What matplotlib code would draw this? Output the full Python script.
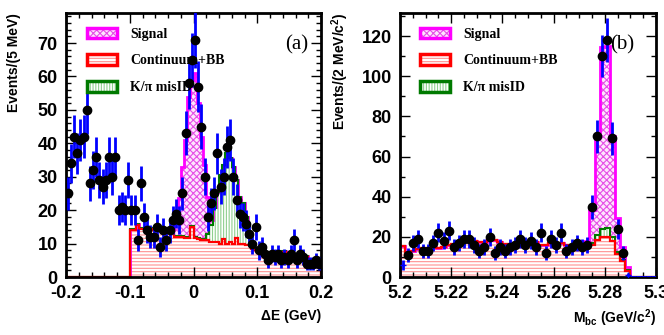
import numpy as np
import matplotlib
matplotlib.use('Agg')
import matplotlib.pyplot as plt
from matplotlib.patches import Patch
from matplotlib.ticker import MultipleLocator

# ---- Delta E projection (5 MeV bins, -0.2 .. 0.2 GeV) ----
de_edges = np.linspace(-0.2, 0.2, 81)
de_data = [25, 34, 42, 37, 41, 42, 50, 28, 32, 36,
           29, 27, 29, 36, 30, 36, 20, 21, 20, 29,
           20, 20, 11, 28, 18, 14, 12, 12, 15, 9,
           14, 11, 14, 17, 19, 17, 25, 43, 58, 65,
           71, 57, 45, 30, 18, 22, 25, 37, 27, 30,
           39, 41, 30, 23, 19, 18, 16, 13, 10, 15,
           8, 9, 7, 5, 7, 6, 7, 5, 6, 5,
           7, 11, 5, 7, 6, 4, 4, 4, 5, 4]
de_bkg = [0, 0, 0, 0, 0, 0, 0, 0, 0, 0,
          0, 0, 0, 0, 0, 0, 0, 0, 0, 0,
          14, 14, 15.5, 14.5, 14.5, 14.5, 14.5, 14, 14, 14,
          14, 13.5, 13.5, 13.5, 12, 12, 12, 11.8, 11.8, 15,
          11.8, 11.5, 11, 11, 11, 10.5, 10.5, 10.5, 10, 11.5,
          10, 10.5, 10, 11.8, 10, 10, 9.5, 9.5, 8.5, 8,
          7.5, 7, 6.5, 6.5, 6.5, 6.5, 6.5, 7.5, 7.5, 6,
          6, 6, 6, 6, 6, 6, 5, 5, 5, 5]
de_misid = [0, 0, 0, 0, 0, 0, 0, 0, 0, 0,
            0, 0, 0, 0, 0, 0, 0, 0, 0, 0,
            0.3, 0.3, 0.3, 0.3, 0.3, 0.3, 0.3, 0.3, 0.3, 0.3,
            0.3, 0.3, 0.3, 0.3, 0.3, 0.3, 0.3, 0.3, 0.3, 0.3,
            0.3, 0.3, 0.3, 0.3, 2, 5.1, 10.2, 15, 20.5, 22,
            27, 25, 23, 17.2, 14, 12, 8.5, 3.5, 1.5, 0.5,
            0.3, 0.3, 0.3, 0.3, 0.3, 0.3, 0.3, 0.3, 0.3, 0.3,
            0.3, 0.3, 0.3, 0.3, 0.3, 0.3, 0.3, 0.3, 0.3, 0.3]
de_signal = [0, 0, 0, 0, 0, 0, 0, 0, 0, 0,
             0, 0, 0, 0, 0, 0, 0, 0, 0, 0,
             0, 0, 0, 0, 0, 0, 0, 0, 0, 0,
             0, 0, 0, 0.7, 4.7, 11.3, 20.7, 28.9, 41.9, 43.7,
             48.9, 40.2, 30.7, 22.2, 11, 1.5, 0.3, 0, 0, 0,
             0, 0, 0, 0, 0, 0, 0, 0, 0, 0,
             0, 0, 0, 0, 0, 0, 0, 0, 0, 0,
             0, 0, 0, 0, 0, 0, 0, 0, 0, 0]
de_xticks = [-0.2, -0.1, 0, 0.1, 0.2]
de_xticklabels = ['-0.2', '-0.1', '0', '0.1', '0.2']
de_yticks = [0, 10, 20, 30, 40, 50, 60, 70]

# ---- Mbc projection (2 MeV/c2 bins, 5.2 .. 5.3 GeV/c2) ----
mbc_edges = np.linspace(5.2, 5.3, 51)
mbc_data = [6, 11, 17, 19, 13, 13, 17, 22, 18, 23,
            15, 17, 19, 19, 16, 13, 15, 20, 12, 15,
            13, 15, 16, 19, 16, 18, 15, 22, 12, 19,
            16, 22, 13, 15, 17, 15, 16, 35, 70, 110,
            118, 69, 24, 12, 1, 0, 0, 0, 0, 0]
mbc_bkg = [15.5, 12, 13, 14, 14.5, 14.5, 15, 14.5, 15, 16,
           16.5, 17.5, 18, 18.5, 18, 17.5, 17.5, 18.5, 18.5, 17.5,
           16.5, 16, 17, 17, 17.5, 18, 17.5, 16, 16, 17,
           17, 17, 16, 16, 16, 15.5, 15, 16, 18.5, 20,
           20, 18, 11.5, 8, 3, 0, 0, 0, 0, 0]
mbc_misid = [0, 0, 0, 0, 0, 0, 0, 0, 0, 0,
             0, 0, 0, 0, 0, 0, 0, 0, 0, 0,
             0, 0, 0, 0, 0, 0, 0, 0, 0, 0,
             0, 0, 0, 0, 0, 0, 0.5, 1, 2.5, 4,
             4.5, 2, 1, 0.5, 0.5, 0, 0, 0, 0, 0]
mbc_signal = [0, 0, 0, 0, 0, 0, 0, 0, 0, 0,
              0, 0, 0, 0, 0, 0, 0, 0, 0, 0,
              0, 0, 0, 0, 0, 0, 0, 0, 0, 0,
              0, 0, 0, 0, 0.5, 1, 2.2, 16.5, 49, 90.5,
              90.5, 50, 17, 6.5, 1.5, 0, 0, 0, 0, 0]
mbc_faint = [0, 44]   # bins drawn with a small blue marker only
mbc_xticks = [5.2, 5.22, 5.24, 5.26, 5.28, 5.3]
mbc_xticklabels = ['5.2', '5.22', '5.24', '5.26', '5.28', '5.3']
mbc_yticks = [0, 20, 40, 60, 80, 100, 120]

legend_labels = ['Signal', 'Continuum+BB', 'K/\u03c0 misID']

plt.rcParams['font.family'] = ['Liberation Sans', 'DejaVu Sans']
plt.rcParams['mathtext.fontset'] = 'custom'
plt.rcParams['mathtext.rm'] = 'Liberation Sans:bold'
plt.rcParams['mathtext.bf'] = 'Liberation Sans:bold'
plt.rcParams['mathtext.it'] = 'Liberation Sans:bold'
plt.rcParams['mathtext.sf'] = 'Liberation Sans:bold'
plt.rcParams['mathtext.default'] = 'bf'
plt.rcParams['hatch.linewidth'] = 0.8

SIG_EDGE, SIG_HATCH = '#ff00ff', '#e64fe6'
MIS_EDGE, MIS_HATCH = '#007a00', '#8fcf8f'
BKG_EDGE, BKG_HATCH = '#ff0000', '#ff9090'


def draw_stack(ax, edges, bkg, misid, signal):
    bkg = np.asarray(bkg, float)
    g_top = bkg + np.asarray(misid, float)
    s_top = g_top + np.asarray(signal, float)
    ax.stairs(s_top, edges, baseline=g_top, fill=True, facecolor='#fde6fd',
              edgecolor=SIG_HATCH, hatch='xxxxx', linewidth=0, zorder=1)
    ax.stairs(g_top, edges, baseline=bkg, fill=True, facecolor='white',
              edgecolor=MIS_HATCH, hatch='||||||', linewidth=0, zorder=1)
    ax.stairs(bkg, edges, baseline=0, fill=True, facecolor='white',
              edgecolor=BKG_HATCH, hatch='-----', linewidth=0, zorder=1)
    ax.stairs(s_top, edges, baseline=0, color=SIG_EDGE, linewidth=2, zorder=2)
    ax.stairs(g_top, edges, baseline=0, color=MIS_EDGE, linewidth=1.5, zorder=2)
    ax.stairs(bkg, edges, baseline=0, color=BKG_EDGE, linewidth=1.6, zorder=2)


def draw_data(ax, edges, counts, faint=()):
    x = 0.5 * (edges[:-1] + edges[1:])
    y = np.asarray(counts, float)
    w = edges[1] - edges[0]
    zero = y == 0
    small = np.zeros_like(zero)
    small[list(faint)] = True
    main = ~zero & ~small
    ax.errorbar(x[main], y[main], yerr=np.sqrt(y[main]), fmt='o', color='black',
                ecolor='#0000ff', elinewidth=2, markersize=6, capsize=0, zorder=5)
    if small.any():
        ax.errorbar(x[small], y[small], yerr=np.sqrt(y[small]), fmt='+', color='#0000ff',
                    ecolor='#0000ff', elinewidth=2, markersize=4, capsize=0, zorder=5)
    if zero.any():
        ax.hlines(np.zeros(zero.sum()), x[zero] - w / 2, x[zero] + w / 2,
                  color='#0000ff', linewidth=2, zorder=5)


def legend(ax, anchor):
    handles = [
        (Patch(facecolor='#fde6fd', edgecolor=SIG_HATCH, hatch='xxxxx', lw=0),
         Patch(facecolor='none', edgecolor=SIG_EDGE, lw=2.5)),
        (Patch(facecolor='white', edgecolor=BKG_HATCH, hatch='-----', lw=0),
         Patch(facecolor='none', edgecolor=BKG_EDGE, lw=2.5)),
        (Patch(facecolor='white', edgecolor=MIS_HATCH, hatch='||||||', lw=0),
         Patch(facecolor='none', edgecolor=MIS_EDGE, lw=2.5)),
    ]
    ax.legend(handles, legend_labels, loc='upper left', bbox_to_anchor=anchor,
              frameon=False, borderpad=0, borderaxespad=0,
              handlelength=2.15, handleheight=0.8, labelspacing=0.98,
              handletextpad=0.95,
              prop={'family': 'Liberation Serif', 'weight': 'bold', 'size': 10})


def style(ax, xticks, xlabels, yticks):
    for s in ax.spines.values():
        s.set_linewidth(2)
    ax.set_xticks(xticks, xlabels, fontweight='bold', fontsize=13)
    ax.set_yticks(yticks, [str(v) for v in yticks], fontweight='bold', fontsize=13)
    ax.tick_params(which='both', direction='in', top=True, right=True, width=1)
    ax.tick_params(which='major', length=7, pad=6)
    ax.tick_params(which='minor', length=3.5)


fig = plt.figure(figsize=(6.64, 3.35), dpi=100)
ax1 = fig.add_axes([66 / 664, 58 / 335, 255 / 664, 264 / 335])
ax2 = fig.add_axes([400 / 664, 58 / 335, 256 / 664, 264 / 335])

# (a) Delta E
draw_stack(ax1, de_edges, de_bkg, de_misid, de_signal)
draw_data(ax1, de_edges, de_data)
style(ax1, de_xticks, de_xticklabels, de_yticks)
ax1.set_xlim(-0.2, 0.2)
ax1.set_ylim(0, 79)
ax1.xaxis.set_minor_locator(MultipleLocator(0.02))
ax1.yaxis.set_minor_locator(MultipleLocator(2))
ax1.set_ylabel('Events/(5 MeV)', fontsize=10, fontweight='bold', loc='top')
ax1.yaxis.set_label_coords(-0.175, 1.0)
ax1.set_xlabel('\u0394E (GeV)', fontsize=10, fontweight='bold', loc='right')
ax1.xaxis.set_label_coords(1.0, -0.12)
ax1.text(0.95, 0.88, '(a)', transform=ax1.transAxes, ha='right', va='center',
         family='Liberation Serif', fontsize=15)
legend(ax1, (0.082, 0.945))

# (b) Mbc
draw_stack(ax2, mbc_edges, mbc_bkg, mbc_misid, mbc_signal)
draw_data(ax2, mbc_edges, mbc_data, mbc_faint)
style(ax2, mbc_xticks, mbc_xticklabels, mbc_yticks)
ax2.set_xlim(5.2, 5.3)
ax2.set_ylim(0, 131.5)
ax2.xaxis.set_minor_locator(MultipleLocator(0.005))
ax2.yaxis.set_minor_locator(MultipleLocator(10))
ax2.set_ylabel(r'Events/(2 MeV/c$^2$)', fontsize=10, fontweight='bold', loc='top')
ax2.yaxis.set_label_coords(-0.19, 1.0)
ax2.set_xlabel(r'M$_{bc}$ (GeV/c$^2$)', fontsize=10, fontweight='bold', loc='right')
ax2.xaxis.set_label_coords(1.0, -0.115)
ax2.text(0.868, 0.88, '(b)', transform=ax2.transAxes, ha='center', va='center',
         family='Liberation Serif', fontsize=15)
legend(ax2, (0.078, 0.945))

fig.savefig('out.png', dpi=100, facecolor='white')
